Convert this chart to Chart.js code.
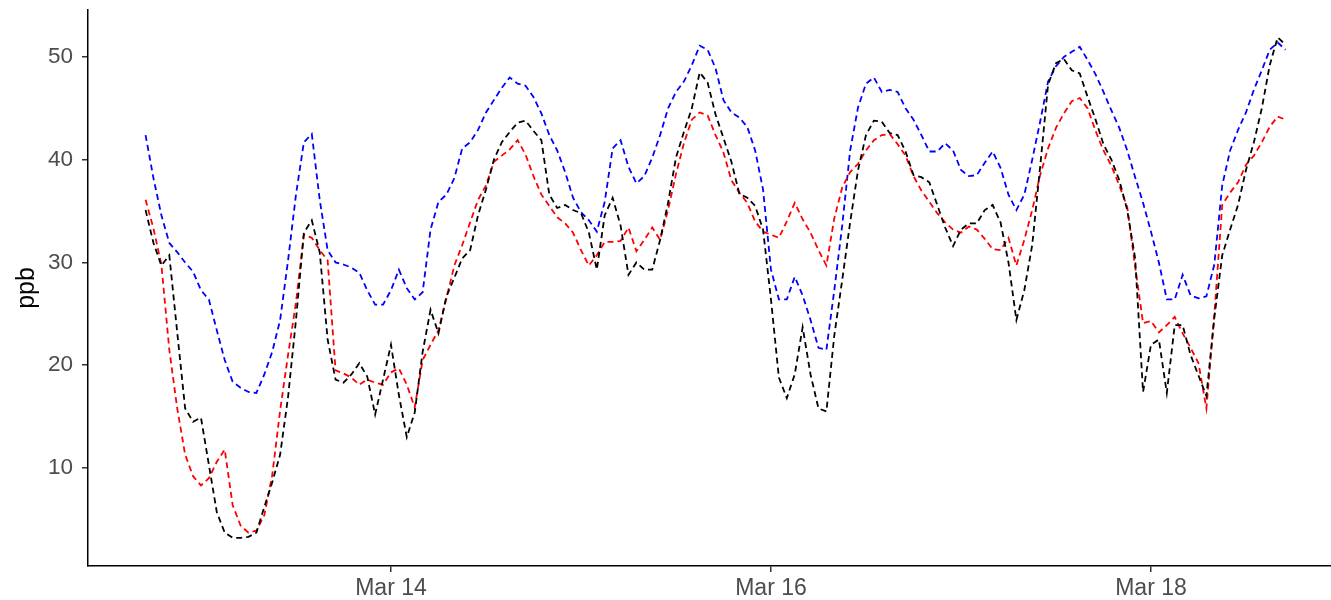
<!DOCTYPE html>
<html lang="en">
<head>
  <meta charset="UTF-8">
  <title>ppb</title>
  <script src="https://cdn.jsdelivr.net/npm/chart.js"></script>
  <style>
    body {
      margin: 0;
      padding: 0;
      background: #fff;
    }
    #wrap {
      width: 1331px;
      height: 600px;
    }
  </style>
</head>
<body>
  <div id="wrap">
    <canvas id="ppbChart" width="1331" height="600"></canvas>
  </div>

  <script>
    // hourly readings, first one at Mar 12 17:00; x is hours after Mar 14 00:00
    const startHour = -31;

    const blueValues = [
      42.4, 38.2, 34.6, 31.9, 31.0, 30.0, 29.1, 27.3, 26.4, 23.4,
      20.5, 18.4, 17.8, 17.4, 17.3, 19.1, 21.3, 24.4, 30.2, 36.6,
      41.7, 42.5, 36.1, 31.2, 30.0, 29.8, 29.5, 29.0, 27.3, 25.9,
      25.9, 27.3, 29.3, 27.5, 26.4, 27.1, 33.2, 35.9, 36.6, 38.2,
      41.1, 41.7, 42.9, 44.6, 45.8, 47.0, 48.0, 47.4, 47.2, 46.1,
      44.5, 42.4, 40.9, 38.8, 36.3, 34.9, 34.1, 33.0, 35.9, 41.1,
      41.9, 39.3, 37.7, 38.4, 40.2, 42.4, 45.0, 46.6, 47.6, 49.2,
      51.1, 50.7, 48.9, 45.8, 44.6, 44.1, 43.2, 40.9, 37.1, 29.3,
      26.4, 26.4, 28.6, 26.8, 24.4, 21.7, 21.5, 27.3, 33.6, 40.9,
      45.1, 47.4, 48.0, 46.6, 46.8, 46.6, 45.0, 43.9, 42.4, 40.8,
      40.8, 41.6, 40.9, 39.0, 38.4, 38.5, 39.7, 40.8, 39.2, 36.6,
      35.1, 36.6, 40.0, 43.7, 47.6, 49.1, 50.0, 50.5, 51.0, 49.7,
      48.3, 46.6, 44.8, 43.1, 40.9, 38.3, 35.8, 33.0, 30.0, 26.4,
      26.4, 28.8, 26.8, 26.5, 26.7, 29.8, 37.5, 40.9, 42.9, 44.6,
      46.8, 48.7, 50.7, 51.4, 50.7
    ];

    const redValues = [
      36.1, 33.3, 29.8, 21.5, 15.8, 11.3, 9.2, 8.3, 9.0, 10.6,
      11.8, 6.4, 4.4, 3.7, 3.9, 5.4, 9.3, 15.6, 21.0, 26.1,
      32.7, 32.4, 31.2, 30.2, 19.5, 19.2, 18.8, 18.1, 18.6, 18.3,
      18.1, 19.3, 19.7, 18.1, 15.9, 20.5, 22.0, 23.4, 26.5, 29.7,
      31.7, 33.9, 36.1, 37.5, 39.8, 40.4, 41.0, 41.9, 40.5, 38.4,
      36.6, 35.5, 34.4, 33.8, 32.9, 31.2, 29.7, 30.7, 32.0, 32.0,
      32.1, 33.4, 31.1, 32.2, 33.4, 32.2, 35.1, 38.6, 41.6, 43.9,
      44.6, 44.3, 42.4, 40.7, 38.0, 36.8, 35.8, 34.0, 33.0, 32.7,
      32.4, 34.0, 35.8, 34.2, 32.9, 31.2, 29.7, 34.3, 37.3, 38.8,
      39.6, 40.9, 41.9, 42.4, 42.5, 41.5, 40.4, 38.4, 37.0, 35.9,
      34.8, 33.9, 33.2, 32.9, 33.5, 33.2, 32.3, 31.3, 31.2, 32.4,
      29.7, 32.2, 35.1, 38.5, 41.1, 43.1, 44.5, 45.7, 46.0, 45.0,
      42.8, 40.9, 39.4, 37.5, 35.4, 29.6, 24.1, 24.3, 23.2, 23.9,
      24.7, 23.1, 21.7, 20.2, 15.8, 24.9, 35.6, 36.8, 37.8, 39.5,
      40.4, 41.7, 43.2, 44.2, 43.9
    ];

    const blackValues = [
      35.1, 31.9, 29.7, 30.7, 23.2, 15.8, 14.5, 14.9, 10.3, 5.7,
      3.7, 3.2, 3.2, 3.3, 3.7, 6.2, 8.6, 11.3, 16.9, 24.4,
      32.9, 34.1, 31.0, 22.5, 18.6, 18.3, 19.1, 20.2, 18.9, 15.2,
      18.6, 22.0, 17.1, 13.0, 15.4, 21.3, 25.4, 23.1, 26.7, 28.5,
      30.4, 31.2, 34.6, 37.1, 40.0, 41.7, 42.7, 43.6, 43.8, 42.8,
      41.9, 36.6, 35.3, 35.6, 35.1, 34.8, 32.9, 29.3, 34.6, 36.3,
      33.6, 28.8, 30.0, 29.3, 29.3, 32.2, 35.8, 40.2, 42.7, 45.0,
      48.5, 47.5, 44.4, 42.1, 39.8, 36.7, 36.3, 35.5, 33.2, 26.4,
      18.8, 16.8, 19.1, 23.7, 19.1, 15.8, 15.5, 22.9, 28.3, 33.9,
      39.0, 42.4, 43.8, 43.7, 42.6, 42.4, 40.8, 38.5, 38.3, 37.8,
      35.6, 33.4, 31.6, 33.2, 33.8, 33.8, 35.1, 35.6, 33.9, 30.0,
      24.4, 27.3, 31.7, 39.3, 47.3, 49.4, 49.8, 48.7, 48.4, 46.1,
      43.9, 41.5, 40.0, 38.0, 35.1, 30.4, 17.4, 22.0, 22.5, 17.3,
      23.9, 23.9, 21.0, 19.0, 17.0, 24.6, 30.7, 33.2, 35.6, 39.0,
      41.7, 45.0, 49.2, 51.9, 51.2
    ];

    const tickHours = [0, 48, 96];
    const tickLabels = ['Mar 14', 'Mar 16', 'Mar 18'];
    const yTicks = [10, 20, 30, 40, 50];

    function toPoints(values) {
      return values.map((v, i) => ({ x: startHour + i, y: v }));
    }

    function lineSet(label, values, color, order) {
      return {
        label: label,
        data: toPoints(values),
        borderColor: color,
        borderWidth: 1.8,
        borderDash: [6, 4],
        pointRadius: 0,
        tension: 0,
        fill: false,
        order: order
      };
    }

    const ctx = document.getElementById('ppbChart').getContext('2d');
    new Chart(ctx, {
      type: 'line',
      data: {
        datasets: [
          lineSet('black', blackValues, '#000000', 1),
          lineSet('red', redValues, '#ff0000', 2),
          lineSet('blue', blueValues, '#0000ff', 3)
        ]
      },
      options: {
        responsive: false,
        animation: false,
        devicePixelRatio: 1,
        layout: { padding: { top: 10, left: 0, right: 0, bottom: 0 } },
        plugins: {
          legend: { display: false },
          tooltip: { enabled: false }
        },
        scales: {
          x: {
            type: 'linear',
            min: -38.27,
            max: 118.74,
            afterFit: (scale) => {
              scale.height = 34;
              scale.paddingLeft = 0;
              scale.paddingRight = 0;
            },
            afterBuildTicks: (scale) => {
              scale.ticks = tickHours.map(v => ({ value: v }));
            },
            border: { display: true, color: '#000', width: 1.5 },
            grid: {
              display: true,
              drawOnChartArea: false,
              drawTicks: true,
              tickLength: 6,
              color: '#333',
              lineWidth: 1.5
            },
            ticks: {
              color: '#4d4d4d',
              padding: 3,
              maxRotation: 0,
              font: { family: 'Liberation Sans, Arial, sans-serif', size: 23 },
              callback: (v) => tickLabels[tickHours.indexOf(v)]
            }
          },
          y: {
            min: 0.46,
            max: 54.57,
            afterFit: (scale) => {
              scale.width = 88;
              scale.paddingTop = 0;
              scale.paddingBottom = 0;
            },
            afterBuildTicks: (scale) => {
              scale.ticks = yTicks.map(v => ({ value: v }));
            },
            border: { display: true, color: '#000', width: 1.5 },
            grid: {
              display: true,
              drawOnChartArea: false,
              drawTicks: true,
              tickLength: 6,
              color: '#333',
              lineWidth: 1.5
            },
            ticks: {
              color: '#4d4d4d',
              padding: 9,
              font: { family: 'Liberation Sans, Arial, sans-serif', size: 22.5 }
            },
            title: {
              display: true,
              text: 'ppb',
              color: '#000',
              padding: { top: 12, bottom: 0 },
              font: { family: 'Liberation Sans, Arial, sans-serif', size: 25 }
            }
          }
        }
      }
    });
  </script>
</body>
</html>
